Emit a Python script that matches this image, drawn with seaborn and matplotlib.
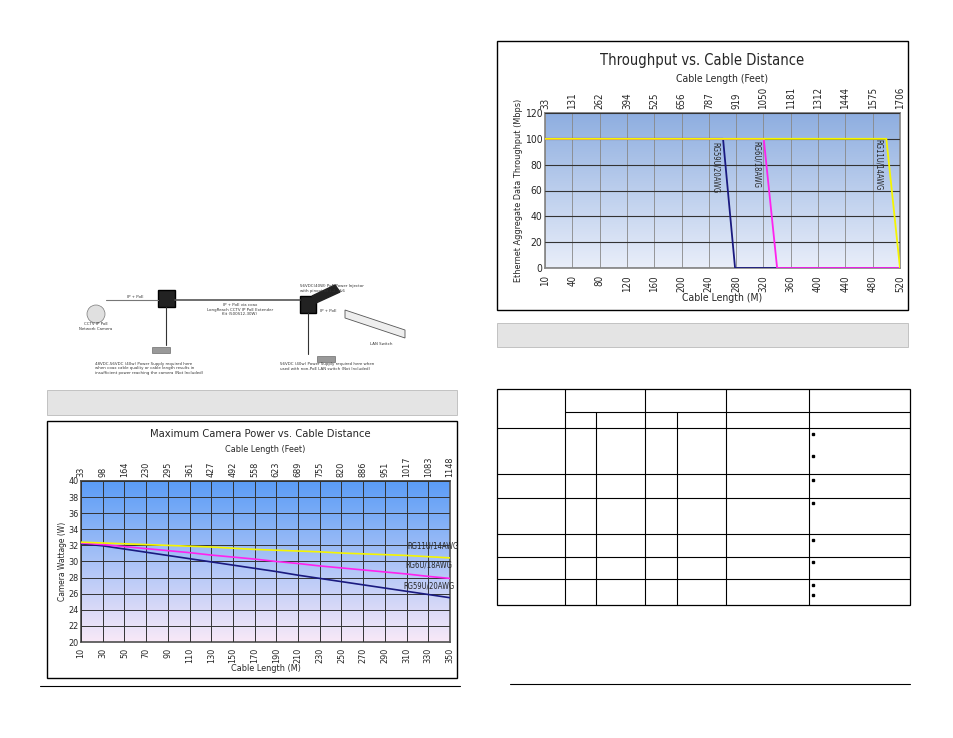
import numpy as np
import pandas as pd
import matplotlib
matplotlib.use("Agg")
import matplotlib.pyplot as plt
from matplotlib.colors import LinearSegmentedColormap
from matplotlib.patches import Rectangle
import seaborn as sns

sns.set_theme(style="white")
plt.rcParams["font.family"] = ["DejaVu Sans"]
plt.rcParams["font.stretch"] = "condensed"

# --- throughput chart data (x is categorical tick index) ---
tp_m_labels = ["10", "40", "80", "120", "160", "200", "240", "280", "320", "360", "400", "440", "480", "520"]
tp_ft_labels = ["33", "131", "262", "394", "525", "656", "787", "919", "1050", "1181", "1312", "1444", "1575", "1706"]
tp_rg59_x = [0, 6.52, 6.96, 13]
tp_rg59_y = [100, 100, 0, 0]
tp_rg6_x = [0, 8.01, 8.5, 13]
tp_rg6_y = [100, 100, 0, 0]
tp_rg11_x = [0, 12.5, 13]
tp_rg11_y = [100, 100, 0]

# --- power chart data ---
pw_m = [10, 30, 50, 70, 90, 110, 130, 150, 170, 190, 210, 230, 250, 270, 290, 310, 330, 350]
pw_ft = ["33", "98", "164", "230", "295", "361", "427", "492", "558", "623", "689", "755", "820", "886", "951", "1017", "1083", "1148"]
pw_rg11 = [32.4, 32.3, 32.2, 32.1, 32.0, 31.9, 31.8, 31.65, 31.5, 31.4, 31.3, 31.2, 31.05, 30.95, 30.85, 30.75, 30.6, 30.45]
pw_rg6 = [32.3, 32.1, 31.85, 31.6, 31.35, 31.1, 30.8, 30.55, 30.3, 30.0, 29.75, 29.45, 29.2, 28.95, 28.7, 28.45, 28.15, 27.9]
pw_rg59 = [32.2, 31.95, 31.55, 31.15, 30.75, 30.35, 29.95, 29.55, 29.15, 28.75, 28.3, 27.9, 27.5, 27.1, 26.7, 26.3, 25.9, 25.5]

W, H = 954, 738
fig = plt.figure(figsize=(W / 100, H / 100), dpi=100)


def px_axes(x0, y0, x1, y1, **kw):
    return fig.add_axes([x0 / W, 1 - y1 / H, (x1 - x0) / W, (y1 - y0) / H], **kw)


page = px_axes(0, 0, W, H)
page.set_xlim(0, W)
page.set_ylim(H, 0)
page.axis("off")


def box(x0, y0, x1, y1, **kw):
    page.add_patch(Rectangle((x0, y0), x1 - x0, y1 - y0, **kw))


# banners and frames
box(47, 390, 457, 415, facecolor="#e4e4e4", edgecolor="#bbbbbb", lw=0.6)
box(497, 323, 908, 347, facecolor="#e4e4e4", edgecolor="#bbbbbb", lw=0.6)
box(497, 41, 908, 310, facecolor="white", edgecolor="black", lw=1)
box(47, 421, 457, 678, facecolor="white", edgecolor="black", lw=1)
page.plot([40, 460], [686, 686], color="black", lw=0.8)
page.plot([510, 910], [684, 684], color="black", lw=0.8)

# table
rows = [389, 412, 428, 474, 498, 534, 557, 579, 605]
box(497, 389, 910, 605, facecolor="none", edgecolor="black", lw=0.9)
for c in [565, 645, 726, 809]:
    page.plot([c, c], [389, 605], color="black", lw=0.8)
for c in [596, 677]:
    page.plot([c, c], [412, 605], color="black", lw=0.8)
page.plot([565, 910], [412, 412], color="black", lw=0.8)
for r in rows[2:-1]:
    page.plot([497, 910], [r, r], color="black", lw=0.8)
for by in [434, 456, 480, 503, 540, 562, 585, 595]:
    page.plot(813, by, marker="s", ms=1.5, color="black")

# network diagram (simplified)
page.add_patch(plt.Circle((96, 314), 9, facecolor="#e0e0e0", edgecolor="#777777", lw=0.5))
box(158, 290, 175, 307, facecolor="#222222", edgecolor="black")
box(300, 296, 316, 313, facecolor="#222222", edgecolor="black")
page.add_patch(plt.Polygon([[316, 303], [340, 292], [335, 285], [312, 296]], color="#222222"))
page.add_patch(plt.Polygon([[345, 310], [405, 330], [405, 338], [345, 318]], facecolor="#eeeeee", edgecolor="#555555", lw=0.6))
page.plot([106, 158], [300, 300], color="#777777", lw=0.8)
page.plot([175, 300], [300, 300], color="#555555", lw=1.2)
box(152, 347, 170, 353, facecolor="#999999", edgecolor="#555555", lw=0.4)
box(317, 356, 335, 362, facecolor="#999999", edgecolor="#555555", lw=0.4)
page.plot([166, 166], [307, 345], color="#333333", lw=0.8)
page.plot([308, 308], [313, 354], color="#333333", lw=0.8)
small = dict(fontsize=3.2, color="#333333")
page.text(127, 298, "IP + PoE", **small)
page.text(96, 330, "CCTV IP PoE\nNetwork Camera", ha="center", **small)
page.text(240, 303, "IP + PoE via coax\nLongReach CCTV IP PoE Extender\nKit (500S12-30W)", ha="center", va="top", **small)
page.text(320, 312, "IP + PoE", **small)
page.text(300, 292, "56VDC(40W) PoE Power Injector\nwith pinout of 1,2,3&6", **small)
page.text(370, 345, "LAN Switch", **small)
page.text(95, 374, "48VDC-56VDC (40w) Power Supply required here\nwhen coax cable quality or cable length results in\ninsufficient power reaching the camera (Not Included)", **small)
page.text(280, 370, "56VDC (40w) Power Supply required here when\nused with non-PoE LAN switch (Not Included)", **small)


def gradient(ax, top, bottom):
    cmap = LinearSegmentedColormap.from_list("g", [bottom, top])
    ax.imshow(np.linspace(0, 1, 256).reshape(-1, 1), aspect="auto", cmap=cmap,
              origin="lower", extent=[*ax.get_xlim(), *ax.get_ylim()], zorder=0)


# ---------- throughput chart ----------
ax1 = px_axes(545, 113, 900, 268)
ax1.set_xlim(0, 13)
ax1.set_ylim(0, 120)
gradient(ax1, "#8eaee0", "#e9eef9")
ax1.set_xticks(range(14))
ax1.set_xticklabels(tp_m_labels, rotation=90, fontsize=7)
ax1.set_yticks(range(0, 121, 20))
ax1.tick_params(axis="y", labelsize=7.5, pad=2, length=0)
ax1.tick_params(axis="x", pad=5, length=0)
ax1.grid(True, axis="x", color="#888888", lw=0.6)
ax1.grid(True, axis="y", color="#333333", lw=0.8)
ax1.set_axisbelow(False)
for s in ax1.spines.values():
    s.set_color("#888888")
sns.lineplot(x=tp_rg59_x, y=tp_rg59_y, ax=ax1, color="#1a1a80", lw=1.3, zorder=3)
sns.lineplot(x=tp_rg6_x, y=tp_rg6_y, ax=ax1, color="#ff22ee", lw=1.3, zorder=3)
sns.lineplot(x=tp_rg11_x, y=tp_rg11_y, ax=ax1, color="#f5f500", lw=1.3, zorder=4)
ax1.text(6.25, 78, "RG59U/20AWG", rotation=-90, fontsize=5.5, ha="center", va="center")
ax1.text(7.75, 80, "RG6U/18AWG", rotation=-90, fontsize=5.5, ha="center", va="center")
ax1.text(12.2, 80, "RG11U/14AWG", rotation=-90, fontsize=5.5, ha="center", va="center")
ax1.set_xlabel("Cable Length (M)", fontsize=7.5, labelpad=1)
ax1.set_ylabel("Ethernet Aggregate Data Throughput (Mbps)", fontsize=6.5, labelpad=1)
top1 = ax1.secondary_xaxis("top")
top1.set_xticks(range(14))
top1.set_xticklabels(tp_ft_labels, rotation=90, fontsize=7)
top1.tick_params(pad=3, length=0)
top1.set_xlabel("Cable Length (Feet)", fontsize=7.5, labelpad=3)
top1.spines["top"].set_color("#888888")
page.text(702, 60, "Throughput vs. Cable Distance", ha="center", va="center", fontsize=10.5)

# ---------- power chart ----------
ax2 = px_axes(81, 481, 450, 642)
ax2.set_xlim(10, 350)
ax2.set_ylim(20, 40)
gradient(ax2, "#5a9cf6", "#f9e9f8")
ax2.set_xticks(pw_m)
ax2.set_xticklabels([str(v) for v in pw_m], rotation=90, fontsize=6.5)
ax2.set_yticks(range(20, 41, 2))
ax2.tick_params(axis="y", labelsize=6.5, pad=2, length=0)
ax2.tick_params(axis="x", pad=4, length=0)
ax2.grid(True, color="#333333", lw=0.7)
ax2.set_axisbelow(False)
for s in ax2.spines.values():
    s.set_color("#555555")
sns.lineplot(x=pw_m, y=pw_rg59, ax=ax2, color="#1a1a80", lw=1.2, zorder=3)
sns.lineplot(x=pw_m, y=pw_rg6, ax=ax2, color="#ff22ee", lw=1.2, zorder=3)
sns.lineplot(x=pw_m, y=pw_rg11, ax=ax2, color="#f5f500", lw=1.2, zorder=3)
ax2.text(311, 31.6, "RG11U/14AWG", fontsize=5.5)
ax2.text(309, 29.2, "RG6U/18AWG", fontsize=5.5)
ax2.text(307, 26.7, "RG59U/20AWG", fontsize=5.5)
ax2.set_xlabel("Cable Length (M)", fontsize=6.5, labelpad=1)
ax2.set_ylabel("Camera Wattage (W)", fontsize=6, labelpad=1)
top2 = ax2.secondary_xaxis("top")
top2.set_xticks(pw_m)
top2.set_xticklabels(pw_ft, rotation=90, fontsize=6.5)
top2.tick_params(pad=3, length=0)
top2.set_xlabel("Cable Length (Feet)", fontsize=6.5, labelpad=3)
page.text(260, 434, "Maximum Camera Power vs. Cable Distance", ha="center", va="center", fontsize=8)

fig.savefig("out.png", dpi=100)
